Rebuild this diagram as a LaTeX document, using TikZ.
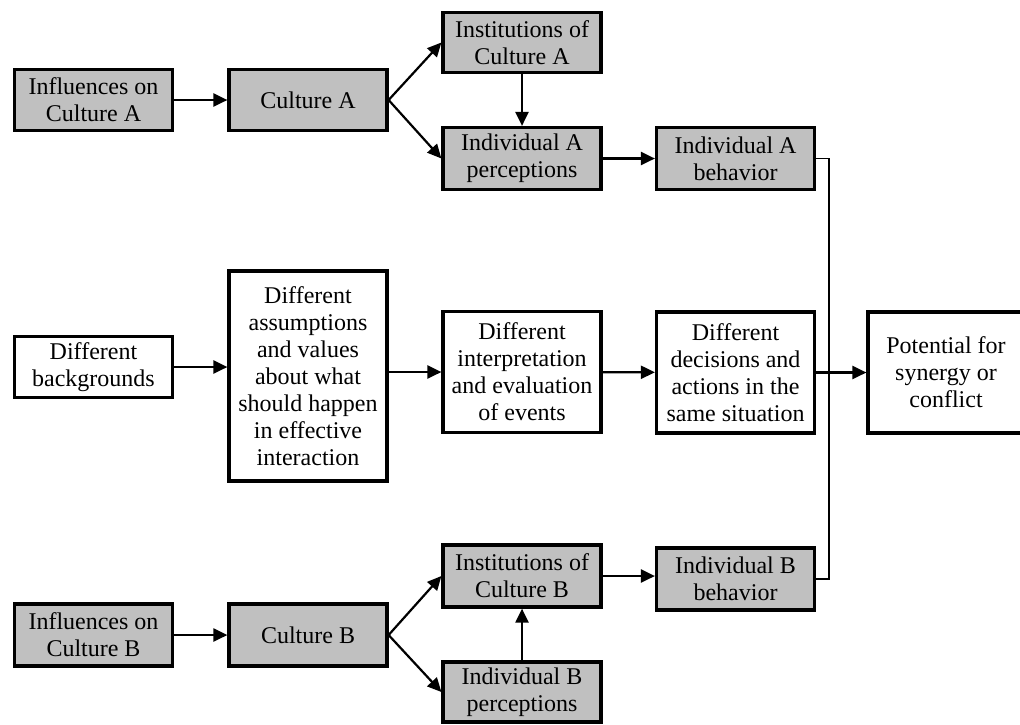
\documentclass[tikz,border=0pt]{standalone}
\usepackage{fontspec}
\setmainfont{Liberation Serif}
\usetikzlibrary{arrows.meta, positioning}
\definecolor{boxgray}{RGB}{192, 192, 192}

\begin{document}
\begin{tikzpicture}[
    x=0.5pt, y=-0.5pt,
    plainbox/.style={rectangle, draw=black, line width=1.6pt, fill=white,
                     minimum width=79pt, inner sep=2pt, align=center,
                     font=\fontsize{12}{13.5}\selectfont},
    culturebox/.style={plainbox, fill=boxgray},
    arrow/.style={-{Triangle[length=7pt, width=6.5pt]}, line width=1.1pt},
    link/.style={line width=0.7pt}
]
\useasboundingbox (0,0) rectangle (1020,724);

%% ── Culture A ───────────────────────────────────────────────────────────────
\node[culturebox, minimum height=30.5pt] (inflA) at (93.5, 100)   {Influences on\\Culture A};
\node[culturebox, minimum height=30.5pt] (cultA) at (308, 100)    {Culture A};
\node[culturebox, minimum height=30pt]   (instA) at (522, 42.5)   {Institutions of\\Culture A};
\node[culturebox, minimum height=31pt]   (percA) at (522, 158.5)  {Individual A\\perceptions};
\node[culturebox, minimum height=31pt]   (behA)  at (735.5, 158.5){Individual A\\behavior};

%% ── Middle row ──────────────────────────────────────────────────────────────
\node[plainbox, minimum height=30.5pt] (backg)  at (93.5, 367)   {Different\\backgrounds};
\node[plainbox, minimum height=105pt]  (assump) at (308, 376)    {Different\\assumptions\\and values\\about what\\should happen\\in effective\\interaction};
\node[plainbox, minimum height=60.5pt] (interp) at (522, 372)    {Different\\interpretation\\and evaluation\\of events};
\node[plainbox, minimum height=60.5pt] (decis)  at (735.5, 372.5){Different\\decisions and\\actions in the\\same situation};
\node[plainbox, minimum height=60.5pt, minimum width=78pt] (poten) at (946, 372.5) {Potential for\\synergy or\\conflict};

%% ── Culture B ───────────────────────────────────────────────────────────────
\node[culturebox, minimum height=31pt]   (instB) at (522, 576)    {Institutions of\\Culture B};
\node[culturebox, minimum height=31pt]   (behB)  at (735.5, 579)  {Individual B\\behavior};
\node[culturebox, minimum height=31pt]   (inflB) at (93.5, 635)   {Influences on\\Culture B};
\node[culturebox, minimum height=31pt]   (cultB) at (308, 635)    {Culture B};
\node[culturebox, minimum height=30pt]   (percB) at (522, 692)    {Individual B\\perceptions};

%% ── Arrows ──────────────────────────────────────────────────────────────────
\draw[arrow] (inflA) -- (cultA);
\draw[arrow] (cultA.east) -- (instA.west);
\draw[arrow] (cultA.east) -- (percA.west);
\draw[arrow] (instA) -- (percA);
\draw[arrow] (percA) -- (behA);

\draw[arrow] (backg.east) -- (backg.east -| assump.west);
\draw[arrow] (assump.east |- interp.west) -- (interp.west);
\draw[arrow] (interp) -- (decis);

\draw[arrow] (inflB) -- (cultB);
\draw[arrow] (cultB.east) -- (instB.west);
\draw[arrow] (cultB.east) -- (percB.west);
\draw[arrow] (percB) -- (instB);
\draw[arrow] (instB.east) -- (instB.east -| behB.west);

\draw[link] (behA.east) -- ++(13,0) coordinate (junc) |- (behB.east);
\draw[arrow] (decis) -- (poten);

\end{tikzpicture}
\end{document}
